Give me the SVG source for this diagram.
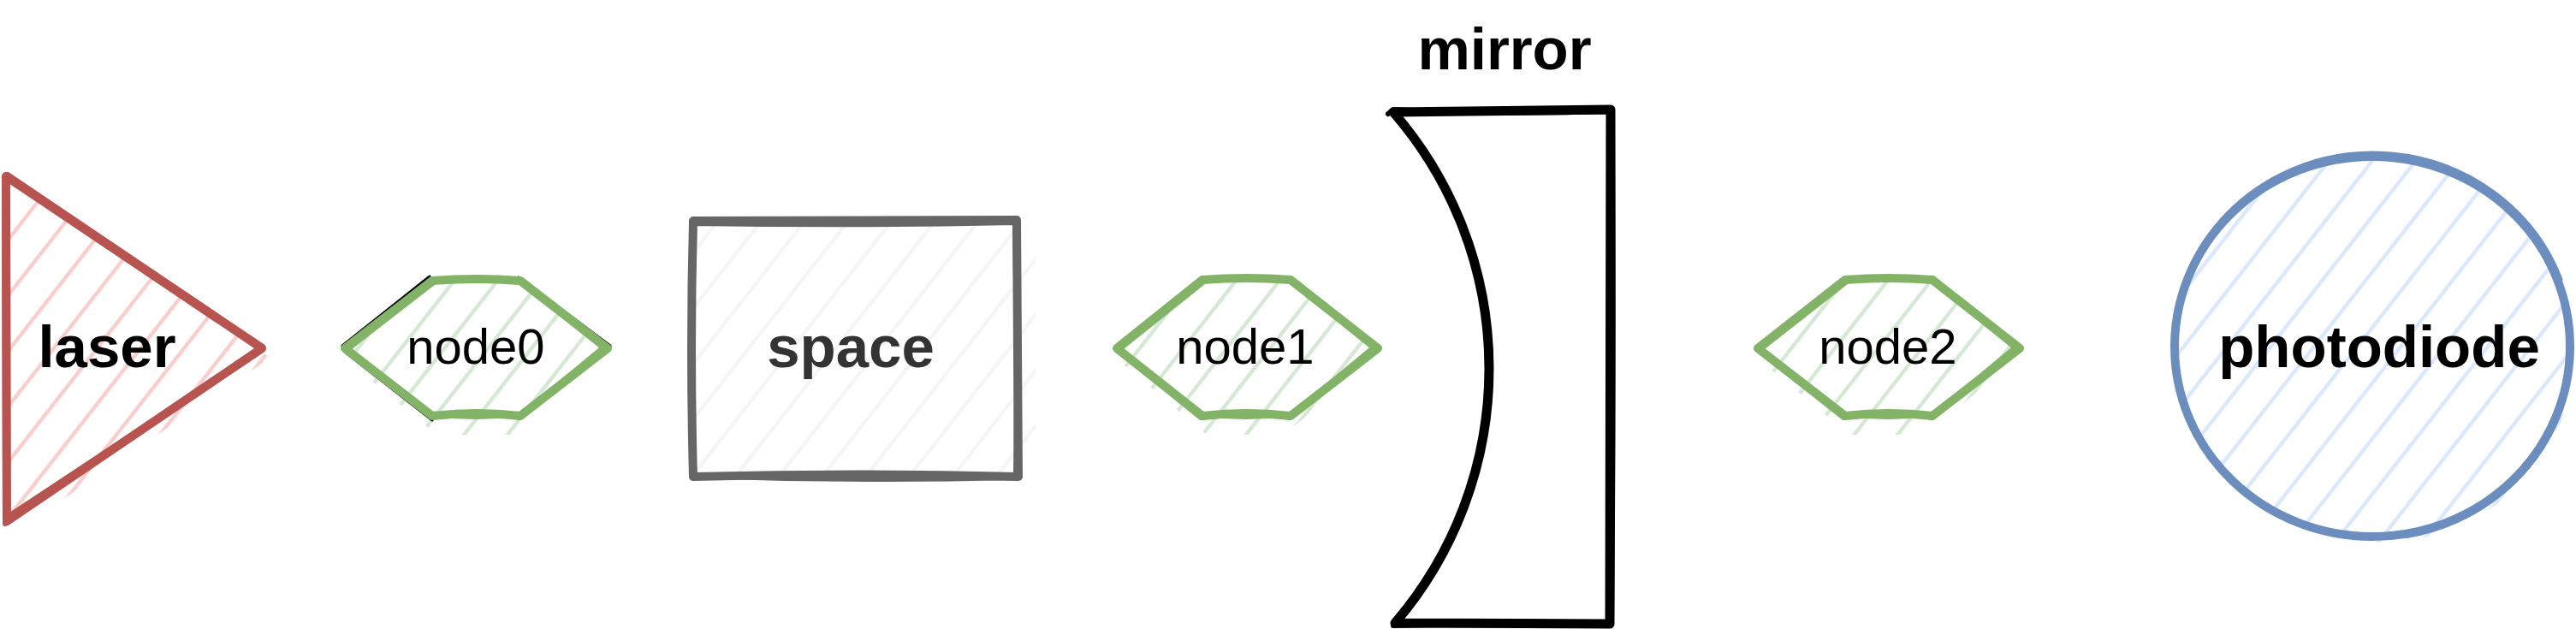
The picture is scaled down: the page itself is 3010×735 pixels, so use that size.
<svg xmlns="http://www.w3.org/2000/svg" width="3010" height="735" viewBox="0 0 3010 735">
  <style>
    .lbl{font-family:"Liberation Sans",Arial,Helvetica,sans-serif;text-anchor:middle}
    .b{font-weight:bold;font-size:69px;fill:#000}
    .r{font-size:58px;fill:#000}
    .o{fill:none;stroke-linejoin:round;stroke-linecap:round}
  </style>
  <defs>
    <pattern id="hRed" patternUnits="userSpaceOnUse" width="40" height="40" patternTransform="rotate(38)">
      <line x1="20" y1="-5" x2="20" y2="45" stroke="#f8cecc" stroke-width="4.5"/>
    </pattern>
    <pattern id="hGreen" patternUnits="userSpaceOnUse" width="40" height="40" patternTransform="rotate(38)">
      <line x1="20" y1="-5" x2="20" y2="45" stroke="#d5e8d4" stroke-width="4.5"/>
    </pattern>
    <pattern id="hGrey" patternUnits="userSpaceOnUse" width="40" height="40" patternTransform="rotate(38)">
      <line x1="20" y1="-5" x2="20" y2="45" stroke="#f5f5f5" stroke-width="4.5"/>
    </pattern>
    <pattern id="hBlue" patternUnits="userSpaceOnUse" width="40" height="40" patternTransform="rotate(38)">
      <line x1="20" y1="-5" x2="20" y2="45" stroke="#dae8fc" stroke-width="4.5"/>
    </pattern>
    <clipPath id="cLaser">
      <polygon points="7,206 306,407 8,609"/>
      <polygon points="12,221 316,418 14,624"/>
    </clipPath>
    <clipPath id="cNode0">
      <polygon points="403,407 505,328 608,328 710,407 608,486 505,486"/>
      <polygon points="410,425 505,350 600,350 700,425 600,508 510,508"/>
    </clipPath>
    <clipPath id="cNode1">
      <polygon points="1305,407 1405,327 1508,327 1610,407 1508,486 1405,486"/>
      <polygon points="1312,425 1405,350 1500,350 1600,425 1500,508 1410,508"/>
    </clipPath>
    <clipPath id="cNode2">
      <polygon points="2054,407 2156,327 2258,327 2360,407 2258,486 2156,486"/>
      <polygon points="2061,425 2156,350 2250,350 2350,425 2250,508 2161,508"/>
    </clipPath>
    <clipPath id="cSpace">
      <rect x="810" y="258" width="380" height="300"/>
      <rect x="830" y="270" width="380" height="280"/>
    </clipPath>
    <clipPath id="cPhoto">
      <ellipse cx="2772" cy="405" rx="231" ry="222"/>
      <ellipse cx="2780" cy="412" rx="228" ry="222"/>
    </clipPath>
  </defs>
  <rect x="0" y="0" width="3010" height="735" fill="#ffffff"/>

  <g id="connectors"></g>

  <g id="laser">
    <rect x="0" y="190" width="330" height="440" fill="url(#hRed)" clip-path="url(#cLaser)"/>
    <path class="o" d="M7,206 L306,407 L8,609 Z" stroke="#b85450" stroke-width="10"/>
    <path class="o" d="M9,204 L307,405 M305,410 L11,607 M6,612 L5,208" stroke="#b85450" stroke-width="6"/>
    <path class="o" d="M12,603 L215,469" stroke="#b85450" stroke-width="8"/>
    <text class="lbl b" x="125" y="429">laser</text>
  </g>

  <g id="node0">
    <rect x="395" y="320" width="325" height="195" fill="url(#hGreen)" clip-path="url(#cNode0)"/>
    <path class="o" d="M400,404 L502,323 M606,324 L713,404 M404,412 L505,491" stroke="#000000" stroke-width="3"/>
    <path class="o" d="M403,407 L505,328 Q556,324 608,328 L710,407 L608,486 Q556,480 505,486 Z" stroke="#82b366" stroke-width="10"/>
    <path class="o" d="M405,409 L507,330 M507,326 Q556,330 606,326 M610,330 L708,409 M706,405 L606,488 M604,484 Q556,490 507,484" stroke="#82b366" stroke-width="6"/>
    <text class="lbl r" x="556" y="425">node0</text>
  </g>

  <g id="space">
    <rect x="800" y="250" width="420" height="320" fill="url(#hGrey)" clip-path="url(#cSpace)"/>
    <path class="o" d="M810,258 L1188,257 L1190,557 Q1000,552 810,557 Q806,408 810,258 Z" stroke="#666666" stroke-width="10"/>
    <path class="o" d="M812,261 Q1000,264 1186,260 M1186,259 Q1189,408 1187,555 M1187,558 Q1000,563 813,556 M808,555 L809,261" stroke="#666666" stroke-width="6"/>
    <text class="lbl b" x="994" y="429" style="fill:#333333">space</text>
  </g>

  <g id="node1">
    <rect x="1295" y="320" width="325" height="195" fill="url(#hGreen)" clip-path="url(#cNode1)"/>
    <path class="o" d="M1305,407 L1405,327 Q1456,323 1508,327 L1610,407 L1508,486 Q1456,480 1405,486 Z" stroke="#82b366" stroke-width="10"/>
    <path class="o" d="M1307,409 L1407,329 M1407,325 Q1456,329 1506,325 M1510,329 L1608,409 M1606,405 L1506,488 M1504,484 Q1456,490 1407,484 M1403,488 L1308,411" stroke="#82b366" stroke-width="6"/>
    <text class="lbl r" x="1455" y="425">node1</text>
  </g>

  <g id="mirror">
    <path class="o" d="M1628,131 L1882,128 L1881,729 L1630,728 A457,457 0 0 0 1628,131 Z" fill="#ffffff" stroke="#000000" stroke-width="11"/>
    <path class="o" d="M1622,133 L1628,128 Q1750,134 1880,130 M1884,130 Q1886,430 1883,727 M1879,731 Q1750,728 1628,731" stroke="#000000" stroke-width="6"/>
    <text class="lbl b" x="1758" y="81">mirror</text>
  </g>

  <g id="node2">
    <rect x="2045" y="320" width="325" height="195" fill="url(#hGreen)" clip-path="url(#cNode2)"/>
    <path class="o" d="M2054,407 L2156,327 Q2207,323 2258,327 L2360,407 L2258,486 Q2207,480 2156,486 Z" stroke="#82b366" stroke-width="10"/>
    <path class="o" d="M2056,409 L2158,329 M2158,325 Q2207,329 2256,325 M2260,329 L2358,409 M2356,405 L2256,488 M2254,484 Q2207,490 2158,484 M2154,488 L2057,411" stroke="#82b366" stroke-width="6"/>
    <text class="lbl r" x="2206" y="425">node2</text>
  </g>

  <g id="photodiode">
    <rect x="2530" y="170" width="480" height="470" fill="url(#hBlue)" clip-path="url(#cPhoto)"/>
    <ellipse class="o" cx="2772" cy="405" rx="231" ry="222" stroke="#6c8ebf" stroke-width="10"/>
    <path class="o" d="M2574,290 A232,225 0 0 1 2990,327" stroke="#6c8ebf" stroke-width="9"/>
    <path class="o" d="M2990,480 A231,223 0 0 1 2812,625" stroke="#6c8ebf" stroke-width="8"/>
    <text class="lbl b" x="2780" y="429">photodiode</text>
  </g>
</svg>
